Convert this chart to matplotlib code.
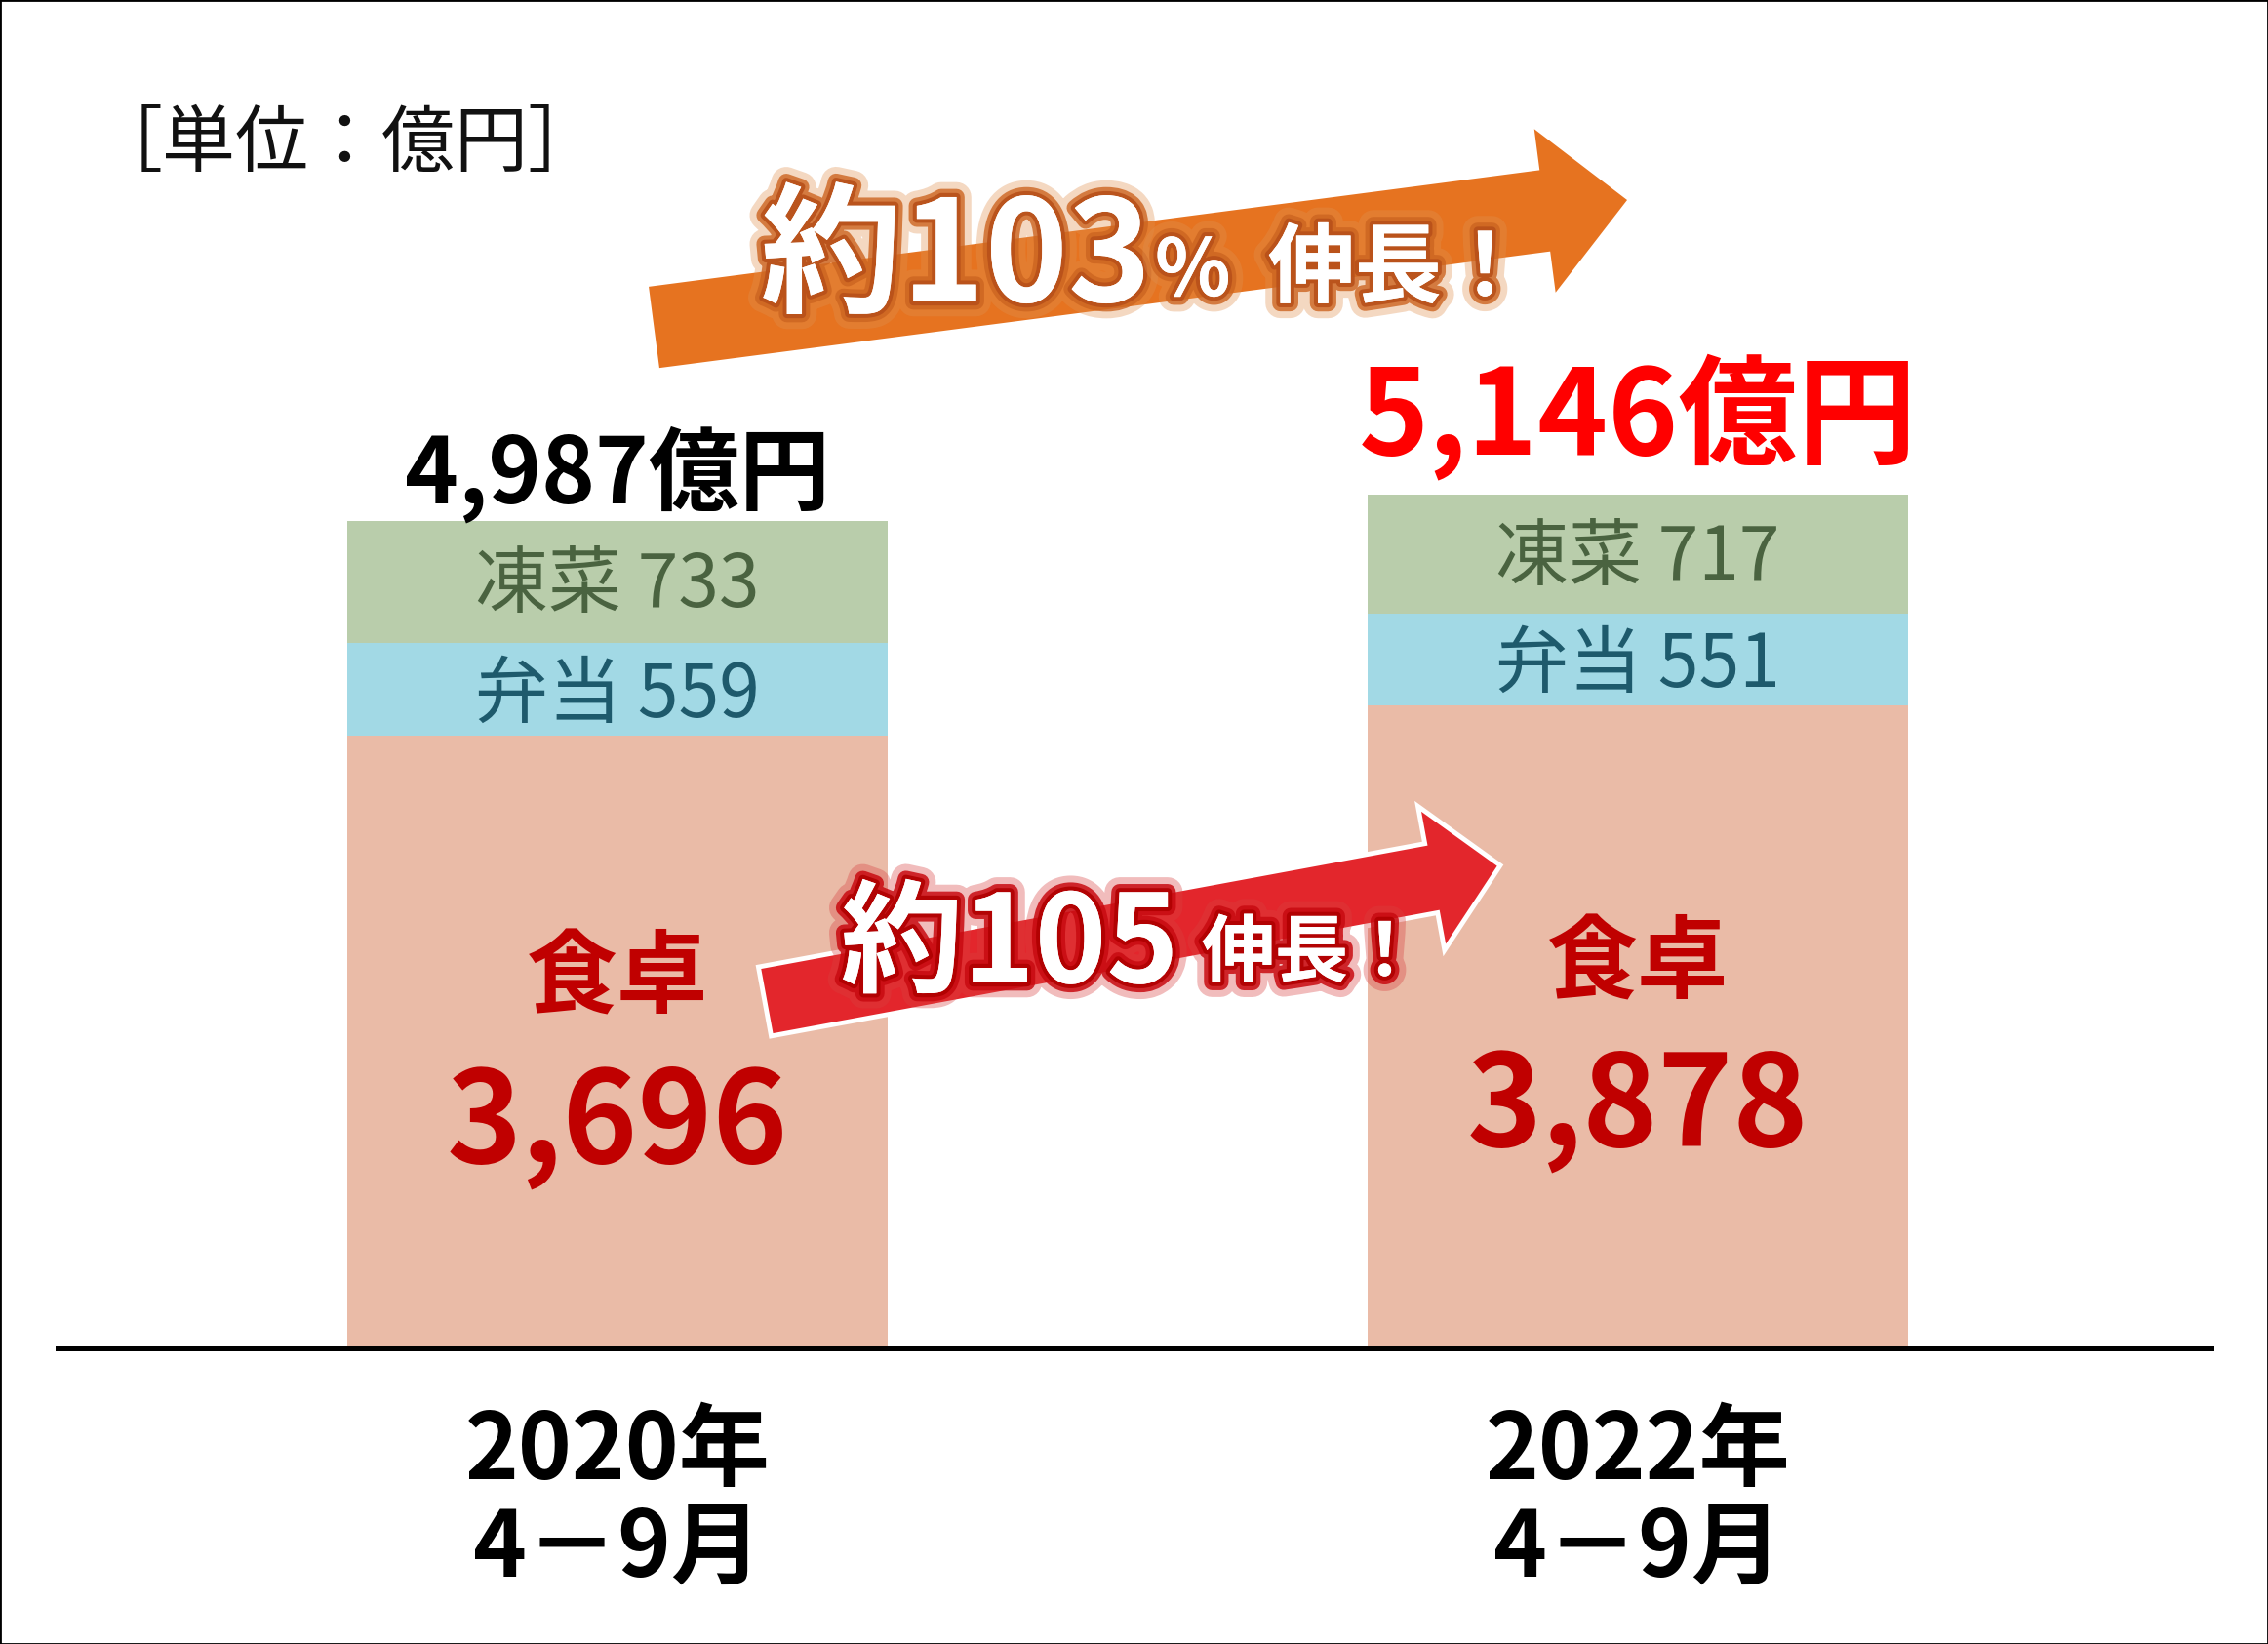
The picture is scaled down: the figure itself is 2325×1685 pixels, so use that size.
import matplotlib
matplotlib.use("Agg")
from matplotlib import pyplot as plt
from matplotlib import patheffects as pe
from matplotlib.patches import FancyArrow, Rectangle
import numpy as np

plt.rcParams['font.family'] = ['Noto Sans CJK JP', 'DejaVu Sans']

# data (億円)
periods = ["2020年\n4－9月", "2022年\n4－9月"]
shokutaku = [3696, 3878]
bento = [559, 551]
tousai = [733, 717]
totals = [4987, 5146]

SALMON = "#EABBA7"
BLUE = "#A2D9E5"
GREEN = "#B9CDAB"
ORANGE = "#E67320"
RED_ARROW = "#E3262C"
DARK_RED = "#C00000"

W, H = 2325, 1685
DPI = 100
BASE_PX = 1382
PX_PER_UNIT = 0.17

fig = plt.figure(figsize=(W / DPI, H / DPI), dpi=DPI)

# bar axes, its bottom spine is the baseline
ax = fig.add_axes([59 / W, (H - BASE_PX) / H, (2267 - 59) / W, BASE_PX / H])
ax.set_ylim(0, BASE_PX / PX_PER_UNIT)
ax.set_xlim(-0.5485, 1.5624)
x = np.arange(len(periods))
bw = 0.53

ax.bar(x, shokutaku, bw, color=SALMON, zorder=1)
ax.bar(x, bento, bw, bottom=shokutaku, color=BLUE, zorder=1)
mid = np.add(shokutaku, bento)
ax.bar(x, tousai, bw, bottom=mid, color=GREEN, zorder=1)

for s in ['top', 'left', 'right']:
    ax.spines[s].set_visible(False)
ax.spines['bottom'].set_linewidth(3.6)
ax.spines['bottom'].set_color('black')
ax.spines['bottom'].set_zorder(3)
ax.set_yticks([])
ax.set_xticks(x)
ax.set_xticklabels(periods, fontsize=67, fontweight='bold', linespacing=1.07)
ax.tick_params(axis='x', length=0, pad=42)
ax.patch.set_alpha(0)

# labels inside segments
for i in range(len(x)):
    c_green = mid[i] + tousai[i] / 2
    c_blue = shokutaku[i] + bento[i] / 2
    c_sal = shokutaku[i] / 2
    ax.annotate(f"凍菜 {tousai[i]}", xy=(x[i], c_green), xytext=(0, -3),
                textcoords='offset points', ha='center', va='center',
                fontsize=54, color="#4A6340")
    ax.annotate(f"弁当 {bento[i]}", xy=(x[i], c_blue), xytext=(0, -5),
                textcoords='offset points', ha='center', va='center',
                fontsize=54, color="#1E5A6C")
    ax.annotate("食卓", xy=(x[i], c_sal), xytext=(0, 46), textcoords='offset points',
                ha='center', va='center', fontsize=67, fontweight='bold',
                color=DARK_RED, zorder=5)
    ax.annotate(f"{shokutaku[i]:,}", xy=(x[i], c_sal), xytext=(0, -89),
                textcoords='offset points', ha='center', va='baseline',
                fontsize=94, fontweight='bold', color=DARK_RED, zorder=5)

# totals above bars
tops = mid + np.array(tousai)
ax.annotate(f"{totals[0]:,}億円", xy=(x[0], tops[0]), xytext=(0, 13),
            textcoords='offset points', ha='center', va='baseline',
            fontsize=67, fontweight='bold', color='black', annotation_clip=False)
ax.annotate(f"{totals[1]:,}億円", xy=(x[1], tops[1]), xytext=(0, 30),
            textcoords='offset points', ha='center', va='baseline',
            fontsize=88, fontweight='bold', color='#FF0000', annotation_clip=False)

# overlay in pixel units for the growth arrows
ov = fig.add_axes([0, 0, 1, 1], zorder=5)
ov.set_xlim(0, W)
ov.set_ylim(H, 0)
ov.axis('off')

ov.add_patch(FancyArrow(670.5, 335.5, 997.5, -130.5, width=84, head_width=169,
                        head_length=85, length_includes_head=True,
                        color=ORANGE, lw=0))
ov.add_patch(FancyArrow(784, 1026.5, 754, -139.5, width=72, head_width=150,
                        head_length=72, length_includes_head=True,
                        facecolor=RED_ARROW, edgecolor='white', lw=3.5))

glow_o = [pe.withStroke(linewidth=22, foreground='#E0904F', alpha=0.35),
          pe.withStroke(linewidth=12, foreground='#CC6420', alpha=0.8),
          pe.withStroke(linewidth=6, foreground='#B8501A', alpha=0.9),
          pe.Normal()]
glow_r = [pe.withStroke(linewidth=22, foreground='#D84040', alpha=0.35),
          pe.withStroke(linewidth=12, foreground='#C80A10', alpha=0.85),
          pe.withStroke(linewidth=6, foreground='#B00000', alpha=0.9),
          pe.Normal()]

ov.text(780, 309, "約103", fontsize=104, fontweight='bold', color='white',
        ha='left', va='baseline', path_effects=glow_o)
ov.text(1184, 303, "%", fontsize=58, fontweight='bold', color='white',
        ha='left', va='baseline', path_effects=glow_o)
ov.text(1300, 303, "伸長！", fontsize=64, fontweight='bold', color='white',
        ha='left', va='baseline', path_effects=glow_o)

ov.text(862, 1007, "約105", fontsize=90, fontweight='bold', color='white',
        ha='left', va='baseline', path_effects=glow_r)
ov.text(1232, 1000, "伸長！", fontsize=54, fontweight='bold', color='white',
        ha='left', va='baseline', path_effects=glow_r)

ov.text(92, 170, "［単位：億円］", fontsize=54, color='#111111',
        ha='left', va='baseline')

fig.patches.append(Rectangle((0, 0), 1, 1, transform=fig.transFigure,
                             fill=False, ec='black', lw=2))

fig.savefig("out.png", dpi=DPI, facecolor='white')
